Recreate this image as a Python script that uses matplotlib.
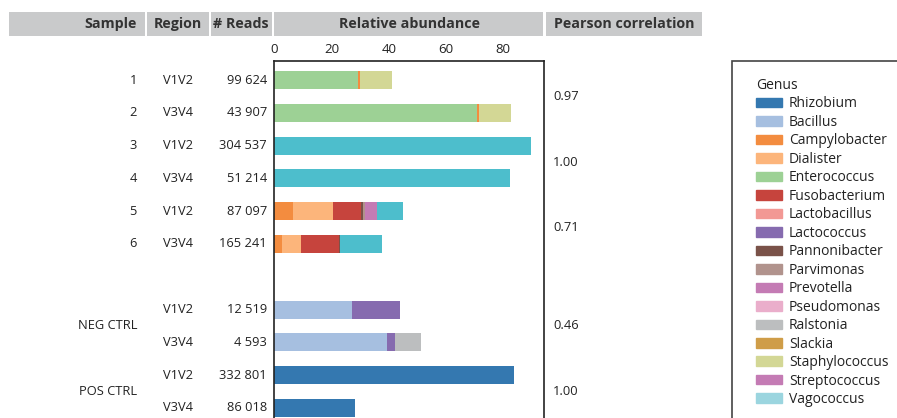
import matplotlib.pyplot as plt
import matplotlib.patches as mpatches
from matplotlib.transforms import blended_transform_factory

plt.rcParams['font.family'] = ['Open Sans', 'DejaVu Sans']

# one entry per sequenced library
samples = ["1", "2", "3", "4", "5", "6", "NEG CTRL", "NEG CTRL", "POS CTRL", "POS CTRL"]
regions = ["V1V2", "V3V4", "V1V2", "V3V4", "V1V2", "V3V4", "V1V2", "V3V4", "V1V2", "V3V4"]
reads = [99624, 43907, 304537, 51214, 87097, 165241, 12519, 4593, 332801, 86018]
# one value per V1V2 / V3V4 pair
pearson = [0.97, 1.00, 0.71, 0.46, 1.00]

# stacked composition of every bar, in drawing order (relative abundance, %)
composition = [
    [("Enterococcus", 29.3), ("Campylobacter", 0.7), ("Staphylococcus", 11.2)],
    [("Enterococcus", 70.9), ("Campylobacter", 0.7), ("Staphylococcus", 11.1)],
    [("Veillonella", 89.7)],
    [("Veillonella", 82.4)],
    [("Campylobacter", 6.6), ("Dialister", 14.0), ("Fusobacterium", 9.8),
     ("Pannonibacter", 0.7), ("Parvimonas", 0.7), ("Prevotella", 4.2), ("Veillonella", 9.0)],
    [("Campylobacter", 2.8), ("Dialister", 6.6), ("Fusobacterium", 13.3),
     ("Pannonibacter", 0.3), ("Veillonella", 14.7)],
    [("Bacillus", 27.2), ("Lactococcus", 16.8)],
    [("Bacillus", 39.4), ("Lactococcus", 2.8), ("Ralstonia", 9.1)],
    [("Rhizobium", 83.8)],
    [("Rhizobium", 28.3)],
]

genus_colors = {
    "Rhizobium": "#3478b0",
    "Bacillus": "#a6bfe0",
    "Campylobacter": "#f38c3f",
    "Dialister": "#fcb57b",
    "Enterococcus": "#9dd195",
    "Fusobacterium": "#c6443d",
    "Lactobacillus": "#f29894",
    "Lactococcus": "#866baf",
    "Pannonibacter": "#7a5249",
    "Parvimonas": "#b1938d",
    "Prevotella": "#c47bb4",
    "Pseudomonas": "#eaaecb",
    "Ralstonia": "#bcbebf",
    "Slackia": "#cf9d48",
    "Staphylococcus": "#d3d795",
    "Streptococcus": "#c47bb4",
    "Vagococcus": "#9bd5df",
    "Veillonella": "#4dbecc",
}
legend_genera = list(genus_colors)[:17]

W, H = 897, 418
def fx(px):
    return px / W
def fy(py):
    return 1 - py / H

text_color = "#222222"
header_gray = "#c9cacb"
fs = 9.3

fig = plt.figure(figsize=(W / 100, H / 100), dpi=100)
ax = fig.add_axes([fx(273.5), fy(427), fx(544) - fx(273.5), (427 - 61) / H])

# rows 0-5 are the samples, then an empty row before the controls
rows = [i if i < 6 else i + 1 for i in range(len(samples))]

for y, segs in zip(rows, composition):
    left = 0
    for genus, val in segs:
        ax.barh(y, val, left=left, height=0.55, color=genus_colors[genus], linewidth=0)
        left += val

ax.set_xlim(-0.2, 94.2)
ax.set_ylim(10.58, -0.58)
ax.set_xticks([0, 20, 40, 60, 80])
ax.xaxis.tick_top()
ax.tick_params(axis="x", length=0, pad=3.5, labelsize=fs + 0.2, labelcolor=text_color)
ax.set_yticks([])
for side in ["top", "left", "right"]:
    ax.spines[side].set_linewidth(1.2)
    ax.spines[side].set_color("#222222")
ax.spines["bottom"].set_visible(False)

# table columns left of the bars
trans = blended_transform_factory(fig.transFigure, ax.transData)
for i, y in enumerate(rows):
    ax.text(fx(178), y, regions[i], transform=trans, ha="center", va="center",
            fontsize=fs, color=text_color)
    ax.text(fx(267), y, f"{reads[i]:,}".replace(",", " "), transform=trans,
            ha="right", va="center", fontsize=fs, color=text_color)
    if i < 6:
        ax.text(fx(137), y, samples[i], transform=trans, ha="right", va="center",
                fontsize=fs, color=text_color)

for k in range(5):
    y_pair = (rows[2 * k] + rows[2 * k + 1]) / 2
    ax.text(fx(553), y_pair, f"{pearson[k]:.2f}", transform=trans, ha="left",
            va="center", fontsize=fs, color=text_color)
    if k >= 3:
        ax.text(fx(137), y_pair, samples[2 * k], transform=trans, ha="right",
                va="center", fontsize=fs, color=text_color)

# header row
headers = [
    ("Sample", 9, 145, "right", 137),
    ("Region", 146.5, 209, "center", 178),
    ("# Reads", 210.5, 272, "center", 241),
    ("Relative abundance", 274, 543, "center", 409),
    ("Pearson correlation", 546, 702, "center", 624),
]
for label, x0, x1, ha, xt in headers:
    fig.patches.append(mpatches.Rectangle((fx(x0), fy(35.7)), fx(x1) - fx(x0),
                                          (35.7 - 12) / H, transform=fig.transFigure,
                                          facecolor=header_gray, edgecolor="none"))
    fig.text(fx(xt), fy(24), label, ha=ha, va="center", fontsize=10.3,
             fontweight="bold", color="#333333")

# genus legend
handles = [mpatches.Patch(color=genus_colors[g]) for g in legend_genera]
leg = fig.legend(handles, legend_genera, loc="upper left",
                 bbox_to_anchor=(fx(756), fy(78)), frameon=False, title="Genus",
                 alignment="left", fontsize=10, title_fontsize=10,
                 handlelength=1.87, handleheight=0.68, handletextpad=0.5,
                 labelspacing=0.25, borderpad=0, borderaxespad=0)
for t in leg.get_texts():
    t.set_color(text_color)
leg.get_title().set_color(text_color)
fig.patches.append(mpatches.Rectangle((fx(732), fy(440)), fx(920) - fx(732),
                                      (440 - 61) / H, transform=fig.transFigure,
                                      fill=False, edgecolor="#444444", linewidth=1.2))

fig.savefig("out.png", dpi=100)
